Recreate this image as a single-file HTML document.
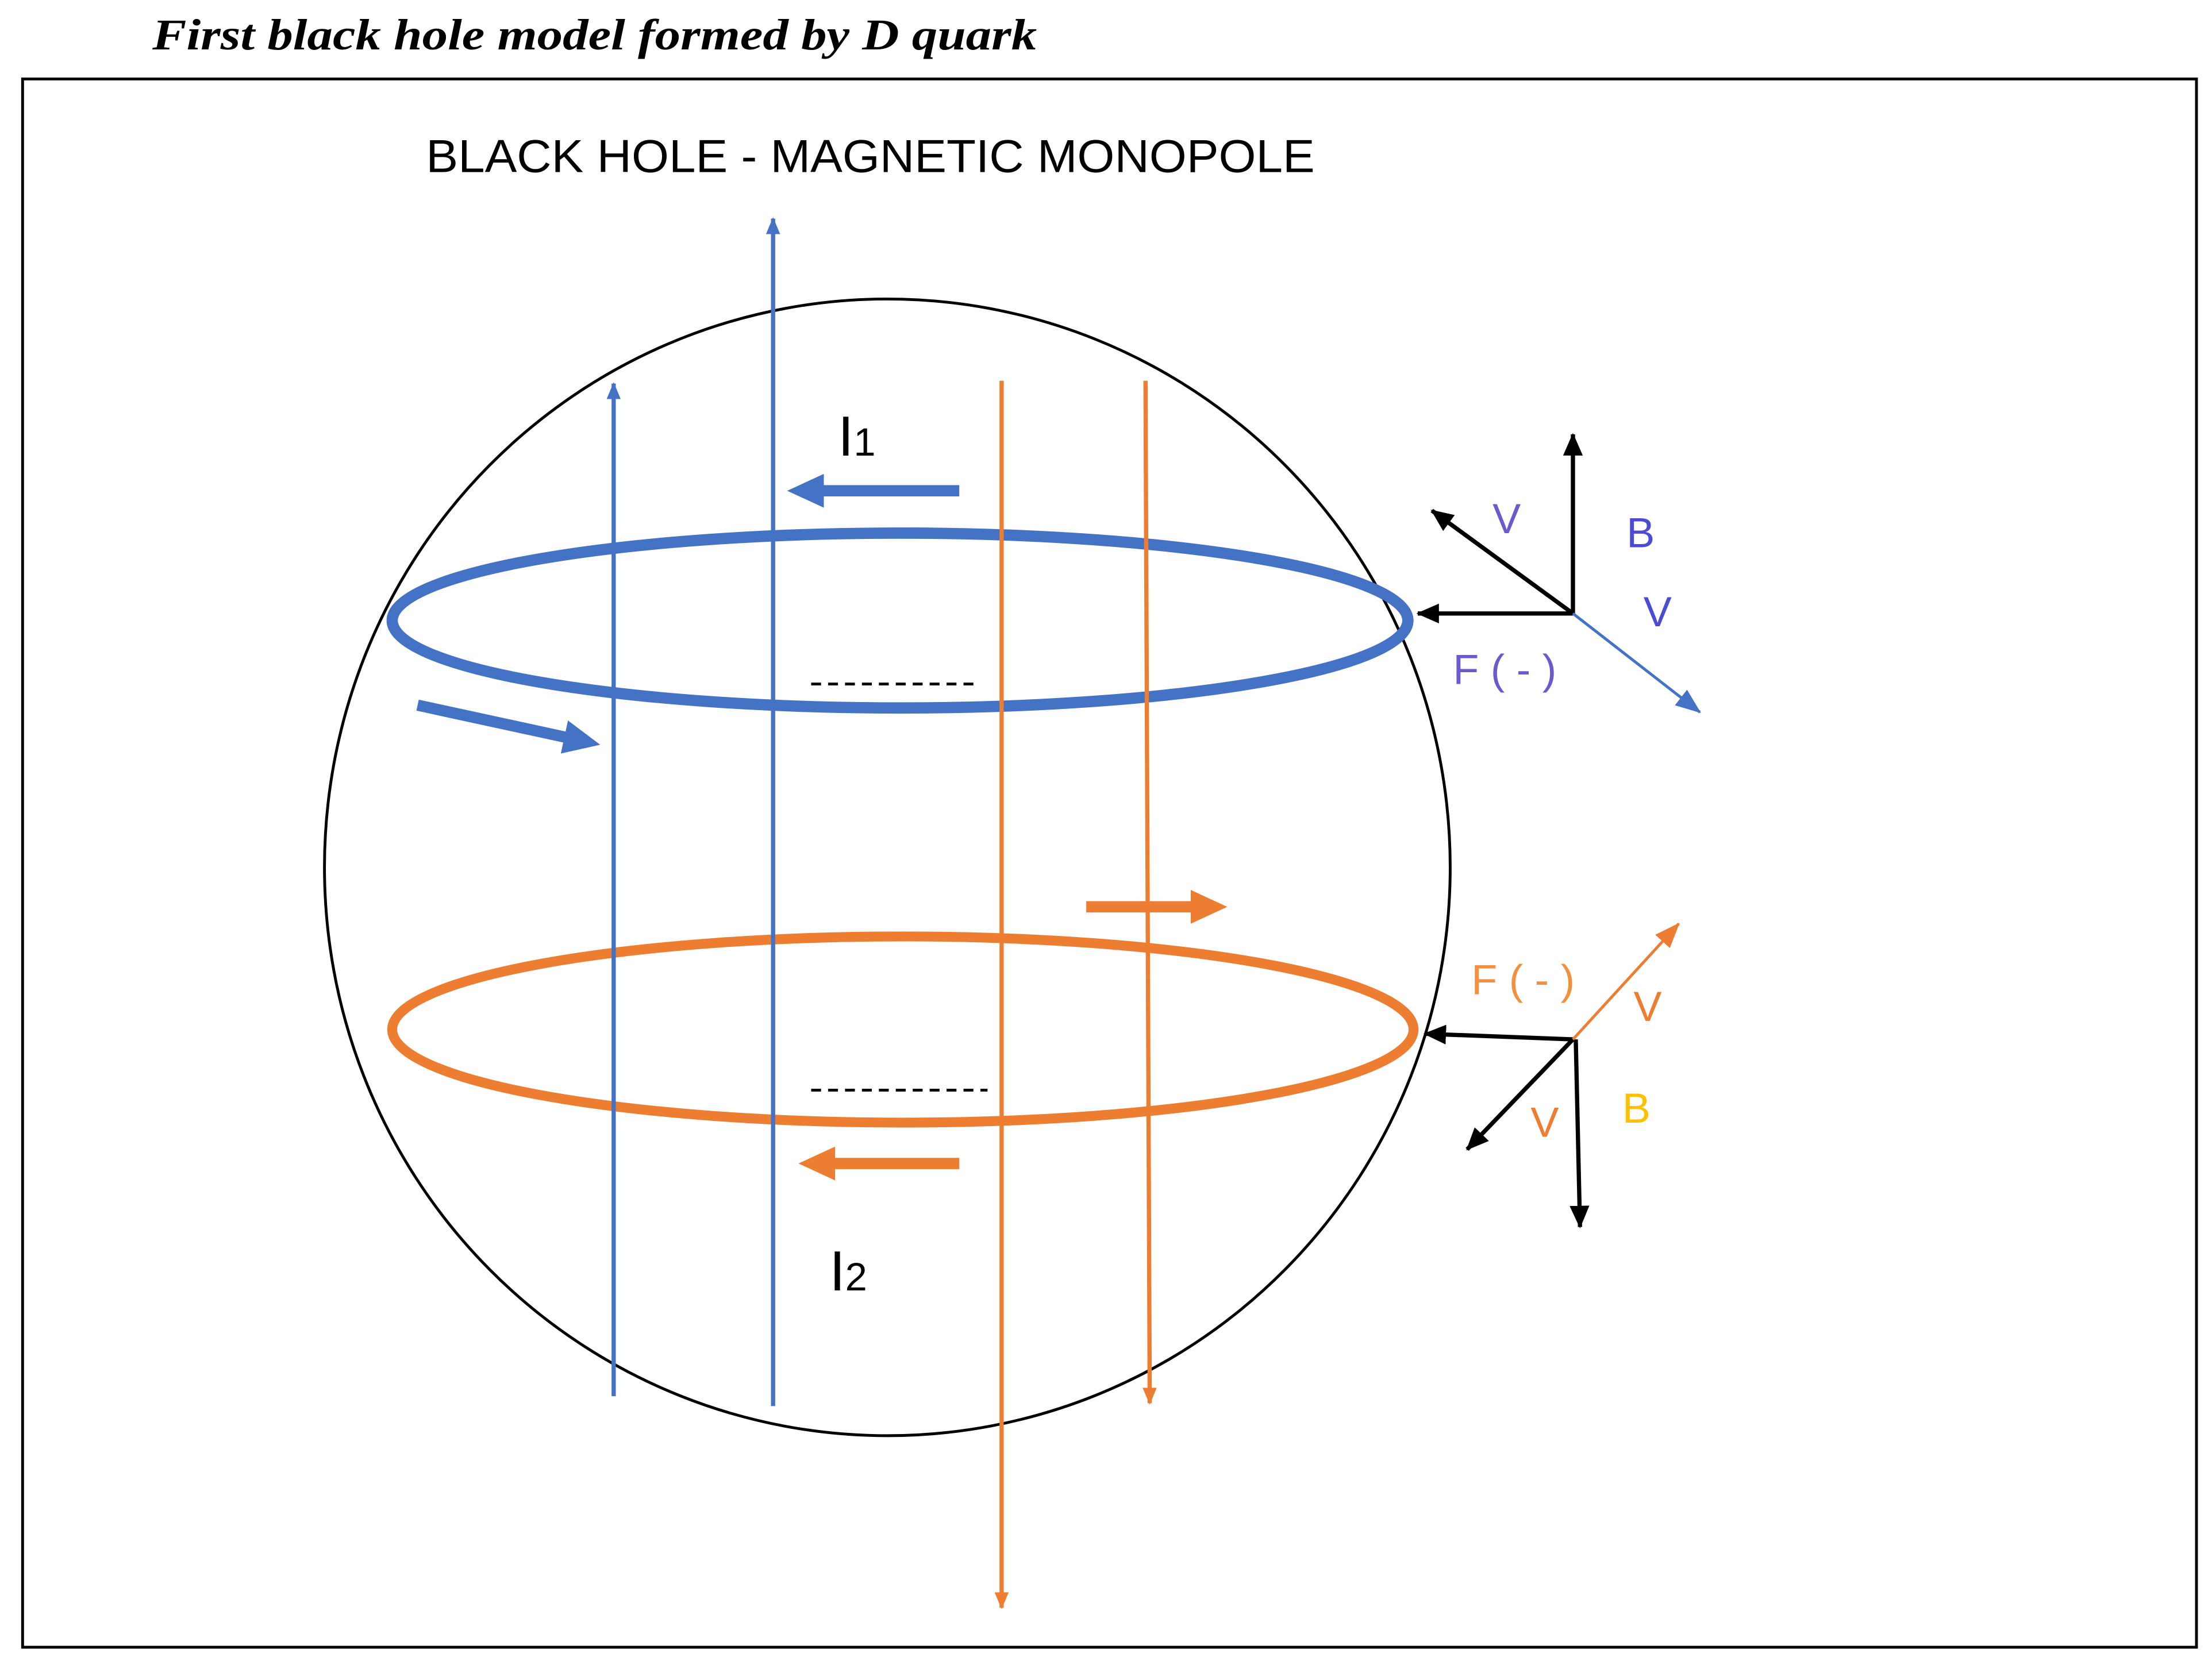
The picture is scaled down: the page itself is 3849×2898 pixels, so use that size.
<!DOCTYPE html>
<html><head><style>html,body{margin:0;padding:0;background:#fff}svg{display:block}</style></head>
<body>
<svg width="3849" height="2898" viewBox="0 0 1568 1180.6" xmlns="http://www.w3.org/2000/svg">
<defs>
<marker id="ab" markerWidth="12" markerHeight="10" refX="11" refY="5" orient="auto" markerUnits="userSpaceOnUse"><path d="M0,0 L12,5 L0,10 Z" fill="#4472C4"/></marker>
<marker id="ao" markerWidth="12" markerHeight="10" refX="11" refY="5" orient="auto" markerUnits="userSpaceOnUse"><path d="M0,0 L12,5 L0,10 Z" fill="#ED7D31"/></marker>
<marker id="ak" markerWidth="16" markerHeight="14" refX="15" refY="7" orient="auto" markerUnits="userSpaceOnUse"><path d="M0,0 L16,7 L0,14 Z" fill="#000"/></marker>
<marker id="abl" markerWidth="18" markerHeight="14" refX="17" refY="7" orient="auto" markerUnits="userSpaceOnUse"><path d="M0,0 L18,7 L0,14 Z" fill="#4472C4"/></marker>
<marker id="aol" markerWidth="18" markerHeight="14" refX="17" refY="7" orient="auto" markerUnits="userSpaceOnUse"><path d="M0,0 L18,7 L0,14 Z" fill="#ED7D31"/></marker>
<marker id="BB" markerWidth="26" markerHeight="24" refX="2" refY="12" orient="auto" markerUnits="userSpaceOnUse"><path d="M0,0 L26,12 L0,24 Z" fill="#4472C4"/></marker>
<marker id="OO" markerWidth="26" markerHeight="24" refX="2" refY="12" orient="auto" markerUnits="userSpaceOnUse"><path d="M0,0 L26,12 L0,24 Z" fill="#ED7D31"/></marker>
</defs>
<text x="108" y="35" font-family="Liberation Serif, serif" font-style="italic" font-weight="bold" font-size="31" textLength="627" lengthAdjust="spacingAndGlyphs">First black hole model formed by D quark</text>
<rect x="16" y="56" width="1541" height="1112" fill="none" stroke="#000" stroke-width="2"/>
<text x="302" y="122" font-family="Liberation Sans, sans-serif" font-size="33" textLength="630" lengthAdjust="spacingAndGlyphs">BLACK HOLE - MAGNETIC MONOPOLE</text>
<ellipse cx="629" cy="615" rx="399" ry="403" fill="none" stroke="#000" stroke-width="2"/>
<ellipse cx="638" cy="440" rx="360" ry="62" fill="none" stroke="#4472C4" stroke-width="8"/>
<ellipse cx="640" cy="730" rx="362" ry="66" fill="none" stroke="#ED7D31" stroke-width="7"/>
<line x1="435" y1="990" x2="435" y2="272" stroke="#4472C4" stroke-width="3" marker-end="url(#ab)"/>
<line x1="548" y1="997" x2="548" y2="155" stroke="#4472C4" stroke-width="3" marker-end="url(#ab)"/>
<line x1="710" y1="270" x2="710" y2="1140" stroke="#ED7D31" stroke-width="3" marker-end="url(#ao)"/>
<line x1="812" y1="270" x2="815" y2="995" stroke="#ED7D31" stroke-width="3" marker-end="url(#ao)"/>
<line x1="680" y1="348" x2="582" y2="348" stroke="#4472C4" stroke-width="8" marker-end="url(#BB)"/>
<line x1="296" y1="500" x2="402" y2="523" stroke="#4472C4" stroke-width="8" marker-end="url(#BB)"/>
<line x1="770" y1="643" x2="846" y2="643" stroke="#ED7D31" stroke-width="8" marker-end="url(#OO)"/>
<line x1="680" y1="825" x2="590" y2="825" stroke="#ED7D31" stroke-width="8" marker-end="url(#OO)"/>
<text x="594" y="323" font-family="Liberation Sans, sans-serif" font-size="40">I<tspan font-size="28">1</tspan></text>
<text x="588" y="915" font-family="Liberation Sans, sans-serif" font-size="40">I<tspan font-size="28">2</tspan></text>
<line x1="575" y1="485" x2="695" y2="485" stroke="#000" stroke-width="2" stroke-dasharray="7,5"/>
<line x1="575" y1="773" x2="700" y2="773" stroke="#000" stroke-width="2" stroke-dasharray="7,5"/>
<line x1="1115" y1="435" x2="1115" y2="308" stroke="#000" stroke-width="3" marker-end="url(#ak)"/>
<line x1="1115" y1="435" x2="1015" y2="362" stroke="#000" stroke-width="3" marker-end="url(#ak)"/>
<line x1="1115" y1="435" x2="1005" y2="435" stroke="#000" stroke-width="3" marker-end="url(#ak)"/>
<line x1="1115" y1="435" x2="1205" y2="505" stroke="#4472C4" stroke-width="2" marker-end="url(#abl)"/>
<g font-family="Liberation Sans, sans-serif" font-size="30">
<text x="1058" y="378" fill="#6A5ACD">V</text>
<text x="1153" y="388" fill="#4B4BD6">B</text>
<text x="1165" y="444" fill="#4B4BD6">V</text>
<text x="1030" y="485" fill="#6A5ACD">F ( - )</text>
<text x="1043" y="705" fill="#F39040">F ( - )</text>
<text x="1158" y="724" fill="#ED7D31">V</text>
<text x="1085" y="806" fill="#ED7D31">V</text>
<text x="1150" y="796" fill="#FFC000">B</text>
</g>
<line x1="1115" y1="737" x2="1010" y2="733" stroke="#000" stroke-width="3" marker-end="url(#ak)"/>
<line x1="1117" y1="737" x2="1120" y2="870" stroke="#000" stroke-width="3" marker-end="url(#ak)"/>
<line x1="1115" y1="737" x2="1040" y2="815" stroke="#000" stroke-width="3" marker-end="url(#ak)"/>
<line x1="1115" y1="737" x2="1190" y2="655" stroke="#ED7D31" stroke-width="2" marker-end="url(#aol)"/>
</svg>
</body></html>
